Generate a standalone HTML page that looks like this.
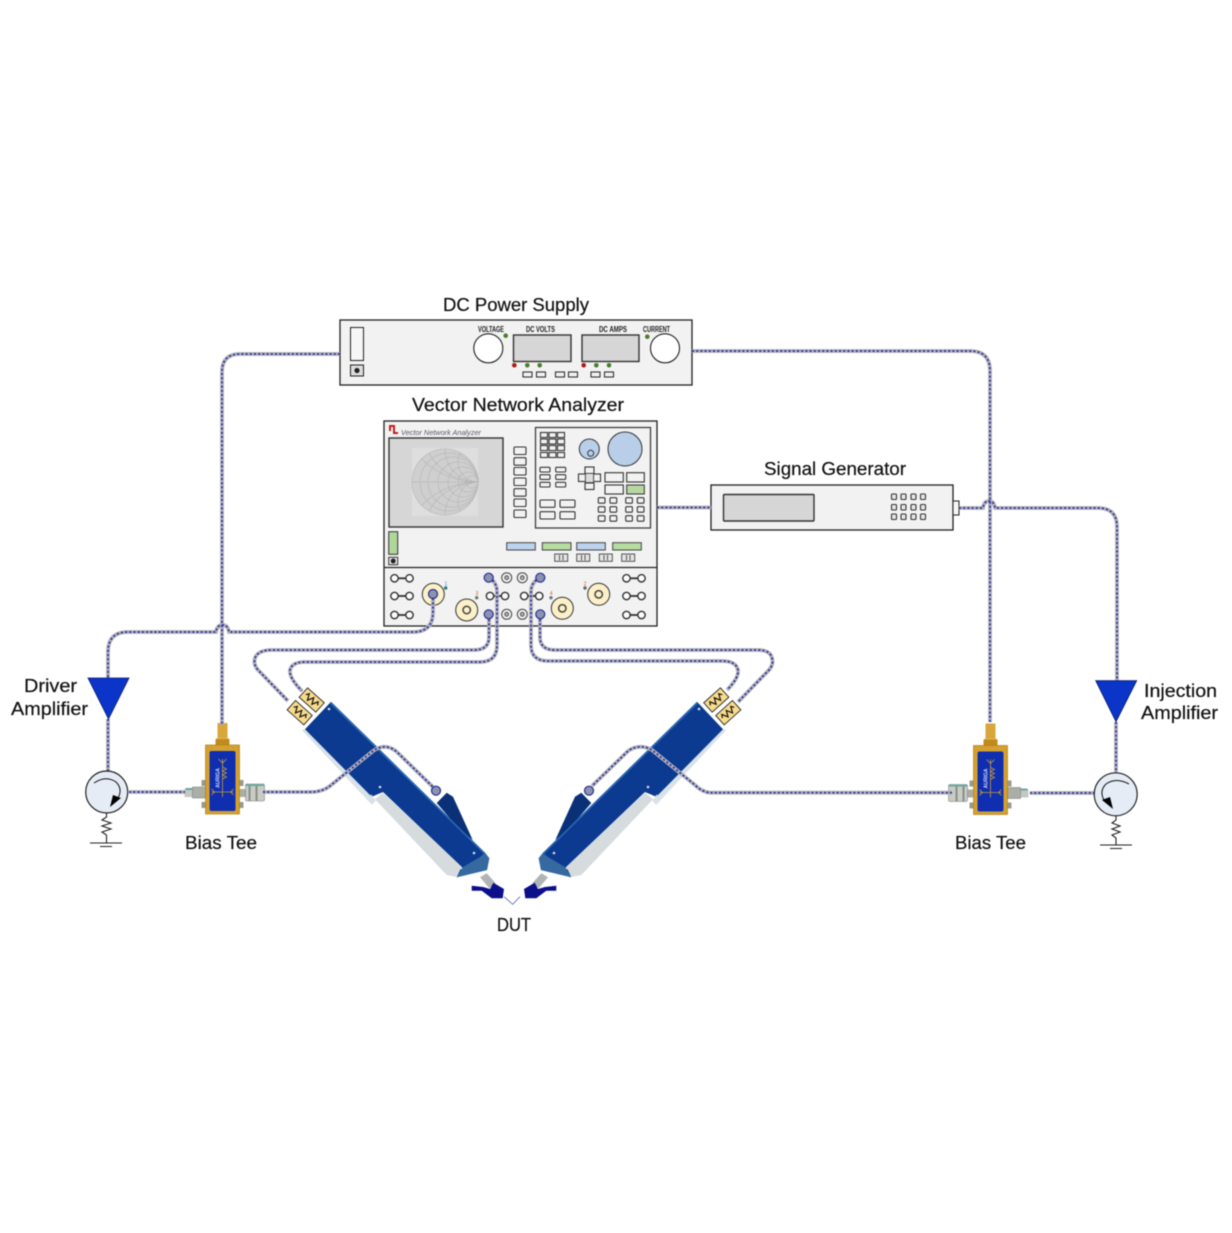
<!DOCTYPE html>
<html><head><meta charset="utf-8"><style>
html,body{margin:0;padding:0;background:#fff}
svg{display:block;filter:blur(.4px)}
text{font-family:"Liberation Sans",sans-serif}
.lb{font-size:18px;fill:#111;stroke:#111;stroke-width:.2}
.sm{font-size:8px;fill:#222;font-weight:700}
.box{fill:#f2f2f2;stroke:#222;stroke-width:1.3}
.disp{fill:#d6d6d6;stroke:#333;stroke-width:1.4}
.btn{fill:#f2f2f2;stroke:#333;stroke-width:1.1}
.cg{fill:none;stroke:#b0b0ba;stroke-width:3.8}
.cd{fill:none;stroke:#2a2f96;stroke-width:1.7;stroke-dasharray:2 2.2}
</style></head><body>
<svg width="1232" height="1233" viewBox="0 0 1232 1233" xmlns="http://www.w3.org/2000/svg">
<defs>
<path id="cables" d="M340,354H240Q222,354 222,372V725
M692,351H970Q990,351 990,371V722
M657,507.500H711
M959,508H983Q984,501 989,501Q994,501 995,508H1098Q1117,508 1117,527V681
M433,594V612Q433,632 413,632H229Q228,625 222.500,625Q217,625 216,632H128Q108,632 108,652V680
M108,719V771
M129,792H185
M263,792H311Q322,792 330,786L373,751Q380,746 387,747Q393,748 398,753L434,788
M1030,793H1094
M1116,722V773
M952,792.700H710Q702,792 695,785L652,750Q645,746 638,747Q631,748 627,752L592,786
M489,615V637Q489,650 474,650H272Q258,650 255,658Q253,664 258,670L288,701
M489,578Q497,582 497,592V645Q497,662 480,662H305Q292,662 290,670Q289,678 302,691
M540,615V637Q540,650 555,650H758Q770,650 772,658Q774,664 769,670L738,702
M540,578Q531,582 531,592V645Q531,661 548,661H722Q736,661 738,670Q739,678 727,690"/>
<g id="probe">
<polygon points="301.700,730 305,729 372,797 376,800 372,805" fill="#d9e2e8"/>
<polygon points="436.700,803 446.700,792.700 453,796.700 472.700,840 460,830" fill="#0a3078"/>
<polygon points="375,799.300 382.700,792.700 463,866.700 456.700,877 446.700,875" fill="#d6dbde"/>
<polygon points="331,701.700 305,729.300 371.700,796.700 383,792 461.700,866.700 456.700,877.300 487,870 489.300,858.300 485,852.700" fill="#0b3a90"/>
<polygon points="331,701.700 485,852.700 484,854 330,703.500" fill="#2a66b0"/>
<polygon points="485,852.700 489.300,858.300 487,870 456.700,877.300 463,867 480,857" fill="#3569a0"/>
<polygon points="480,877.300 486.700,873.300 495.700,883.300 489.300,888.300" fill="#b0b4b4"/>
<polygon points="471.700,885.700 483,887 490,889 493.300,882.700 504,889 502.700,898.300 491.700,898.300 481.700,890.700 471.700,890.700" fill="#0b0f8a"/>
<g fill="#d5dde2"><circle cx="329" cy="709" r="1.300"/><circle cx="306" cy="732" r="1.300"/><circle cx="380" cy="787" r="1.300"/><circle cx="371" cy="796" r="1.300"/><circle cx="474" cy="853" r="1.300"/><circle cx="461" cy="868" r="1.300"/></g>
<g transform="translate(311.700,700) rotate(42)"><rect x="-11.200" y="-6.300" width="22.400" height="12.600" fill="#f8dc8c" stroke="#222" stroke-width=".9"/><polyline points="-8,0 -6,-3 -3,3 0,-3 3,3 6,-3 8,0" fill="none" stroke="#111" stroke-width="1.200"/></g>
<g transform="translate(299.700,712.700) rotate(42)"><rect x="-11.200" y="-6.300" width="22.400" height="12.600" fill="#f8dc8c" stroke="#222" stroke-width=".9"/><polyline points="-8,0 -6,-3 -3,3 0,-3 3,3 6,-3 8,0" fill="none" stroke="#111" stroke-width="1.200"/></g>
</g>
<g id="teeconn">
<rect x="-38" y="-3" width="8" height="8" fill="#c5c8c0"/><rect x="-30" y="-5" width="13" height="11" fill="#aaaea6" stroke="#777" stroke-width=".5"/><rect x="-37" y="-4" width="7" height="2" fill="#6aa8a0"/>
<rect x="17" y="-3" width="6" height="8" fill="#aaaea6"/><rect x="23" y="-8" width="19" height="17" rx="1" fill="#c8ccc4" stroke="#777" stroke-width=".5"/><rect x="26" y="-8" width="2" height="17" fill="#8a8e86"/><rect x="33" y="-8" width="2" height="17" fill="#8a8e86"/><rect x="23" y="-8" width="19" height="2" fill="#6aa8a0"/>
</g>
<g id="tee">
<rect x="-5" y="-69" width="10" height="15" fill="#d8a63a"/><rect x="-6" y="-54" width="12" height="3" fill="#e3b850"/><rect x="-7" y="-53" width="14" height="6" fill="#c08a20"/>
<g fill="#9a9a90"><rect x="-21" y="-12" width="4" height="6"/><rect x="17" y="-12" width="4" height="6"/><rect x="-21" y="10" width="4" height="6"/><rect x="17" y="10" width="4" height="6"/></g>
<rect x="-17" y="-47" width="34" height="69" fill="#d4a030" stroke="#b37f18" stroke-width=".7"/>
<rect x="-13" y="-41" width="26" height="60" rx="2" fill="#0f2fb0"/>
<path d="M0,-33V5M-4,-33L0,-29L4,-33M0,-25l4,2l-4,2l4,2l-4,2l4,2l-4,2M-11,0H11M-11,-3l3,3l-3,3M11,-3l-3,3l3,3" fill="none" stroke="#c79a3a" stroke-width=".8"/>
<text x="0" y="0" transform="translate(-3,-14) rotate(-90)" text-anchor="middle" style="font-size:5px;fill:#cfd8f5;font-weight:700">AURIGA</text>
</g>
<g id="bb"><line x1="-6" x2="6" y1="0" y2="0" stroke="#333" stroke-width="1.800"/><circle cx="-7.500" cy="0" r="3.700" fill="#fbfbfb" stroke="#333" stroke-width="1.400"/><circle cx="7.500" cy="0" r="3.700" fill="#fbfbfb" stroke="#333" stroke-width="1.400"/></g>
<g id="yp"><circle r="11" fill="#fbf0c8" stroke="#333" stroke-width="1"/><circle r="3.700" fill="#fbf0c8" stroke="#444" stroke-width="1.500"/></g>
<g id="gp"><circle r="4.500" fill="#8d92b2" stroke="#23308f" stroke-width="1.200"/></g>
<g id="rp"><circle r="5" fill="#f2f2f2" stroke="#444"/><circle r="2" fill="#aaa" stroke="#444" stroke-width=".8"/></g>
<clipPath id="sm"><circle cx="445" cy="482" r="33"/></clipPath>
</defs>

<rect width="1232" height="1233" fill="#fff"/>

<!-- DC power supply -->
<rect class="box" x="340" y="320" width="352" height="65"/>
<rect x="350.500" y="327.500" width="13" height="33" fill="#f6f6f6" stroke="#222"/>
<rect x="350.500" y="365" width="13" height="11" fill="#ddd" stroke="#222"/><circle cx="357" cy="370.500" r="2.600" fill="#222"/>
<circle cx="488.300" cy="348.300" r="14.500" fill="#fff" stroke="#222" stroke-width="1.100"/>
<circle cx="665" cy="348.300" r="14.500" fill="#fff" stroke="#222" stroke-width="1.100"/>
<rect class="disp" x="513.500" y="335" width="57.500" height="26.500"/>
<rect class="disp" x="582" y="335" width="57" height="26.500"/>
<g fill="#4d7d2c"><circle cx="505.700" cy="335.700" r="2.300"/><circle cx="647.300" cy="336.700" r="2.300"/><circle cx="527.300" cy="365.300" r="2.300"/><circle cx="539.700" cy="365.300" r="2.300"/><circle cx="596.300" cy="365.300" r="2.300"/><circle cx="609" cy="365.300" r="2.300"/></g>
<g fill="#b01818"><circle cx="514.300" cy="365.300" r="2.300"/><circle cx="583.700" cy="365.300" r="2.300"/></g>
<rect class="btn" x="523" y="372" width="9" height="5"/><rect class="btn" x="536.500" y="372" width="9" height="5"/><rect class="btn" x="555.500" y="372" width="9" height="5"/><rect class="btn" x="568.500" y="372" width="9" height="5"/><rect class="btn" x="591" y="372" width="9" height="5"/><rect class="btn" x="604.500" y="372" width="9" height="5"/>
<text class="sm" x="478" y="332" textLength="26" lengthAdjust="spacingAndGlyphs">VOLTAGE</text>
<text class="sm" x="526" y="332" textLength="29" lengthAdjust="spacingAndGlyphs">DC VOLTS</text>
<text class="sm" x="599" y="332" textLength="28" lengthAdjust="spacingAndGlyphs">DC AMPS</text>
<text class="sm" x="643" y="332" textLength="27" lengthAdjust="spacingAndGlyphs">CURRENT</text>

<!-- VNA -->
<rect class="box" x="384" y="421" width="273" height="205"/>
<line x1="384" y1="567.500" x2="657" y2="567.500" stroke="#222" stroke-width="1.200"/>
<path d="M390,431V426H394V433H398" fill="none" stroke="#c02020" stroke-width="2"/>
<text x="401" y="435" textLength="80" lengthAdjust="spacingAndGlyphs" style="font-size:7px;font-style:italic;fill:#556">Vector Network Analyzer</text>
<rect class="disp" x="389" y="438" width="114" height="89"/>
<rect x="412" y="448" width="66" height="68" fill="#dedede"/>
<circle cx="445" cy="482" r="33" fill="#cfcfcf"/>
<g fill="none" stroke="#b2b2b2" stroke-width=".9" stroke-dasharray="1.500 1">
<circle cx="445" cy="482" r="33"/><circle cx="449" cy="482" r="29"/><circle cx="453" cy="482" r="25"/><circle cx="458" cy="482" r="20"/><circle cx="463" cy="482" r="15"/><circle cx="468" cy="482" r="10"/><circle cx="472" cy="482" r="6"/>
<circle cx="478" cy="449" r="33" clip-path="url(#sm)"/><circle cx="478" cy="515" r="33" clip-path="url(#sm)"/>
<circle cx="478" cy="462" r="20" clip-path="url(#sm)"/><circle cx="478" cy="502" r="20" clip-path="url(#sm)"/>
<circle cx="478" cy="426" r="56" clip-path="url(#sm)"/><circle cx="478" cy="538" r="56" clip-path="url(#sm)"/>
<circle cx="478" cy="402" r="80" clip-path="url(#sm)"/><circle cx="478" cy="562" r="80" clip-path="url(#sm)"/>
<line x1="412" y1="482" x2="478" y2="482"/>
</g>
<rect class="btn" x="514" y="447" width="12" height="7.500" rx="1"/><rect class="btn" x="514" y="457.700" width="12" height="7.500" rx="1"/><rect class="btn" x="514" y="467.500" width="12" height="7.500" rx="1"/><rect class="btn" x="514" y="478" width="12" height="7.500" rx="1"/><rect class="btn" x="514" y="488.700" width="12" height="7.500" rx="1"/><rect class="btn" x="514" y="499" width="12" height="7.500" rx="1"/><rect class="btn" x="514" y="510" width="12" height="7.500" rx="1"/>
<rect x="535.500" y="427.500" width="115" height="100.500" fill="#f2f2f2" stroke="#333" stroke-width="1.200"/>
<rect class="btn" x="540.500" y="432.500" width="7" height="5"/><rect class="btn" x="549" y="432.500" width="7" height="5"/><rect class="btn" x="557.500" y="432.500" width="7" height="5"/>
<rect class="btn" x="540.500" y="439" width="7" height="5"/><rect class="btn" x="549" y="439" width="7" height="5"/><rect class="btn" x="557.500" y="439" width="7" height="5"/>
<rect class="btn" x="540.500" y="445.500" width="7" height="5"/><rect class="btn" x="549" y="445.500" width="7" height="5"/><rect class="btn" x="557.500" y="445.500" width="7" height="5"/>
<rect class="btn" x="540.500" y="452.500" width="7" height="5"/><rect class="btn" x="549" y="452.500" width="7" height="5"/><rect class="btn" x="557.500" y="452.500" width="7" height="5"/>
<circle cx="589.300" cy="449" r="10" fill="#b9cee8" stroke="#333"/><circle cx="590.700" cy="453.300" r="3" fill="#b9cee8" stroke="#333"/>
<circle cx="625" cy="449" r="17" fill="#b9cee8" stroke="#333"/>
<rect class="btn" x="540" y="467.300" width="10" height="4.700" rx="1"/><rect class="btn" x="555.700" y="467.300" width="10" height="4.700" rx="1"/>
<rect class="btn" x="540" y="474.700" width="10" height="4.700" rx="1"/><rect class="btn" x="555.700" y="474.700" width="10" height="4.700" rx="1"/>
<rect class="btn" x="540" y="482.300" width="10" height="4.700" rx="1"/><rect class="btn" x="555.700" y="482.300" width="10" height="4.700" rx="1"/>
<rect class="btn" x="585" y="467" width="9" height="6.500"/><rect class="btn" x="585" y="483" width="9" height="6.500"/><rect class="btn" x="578.500" y="474" width="7" height="7.500"/><rect class="btn" x="593.500" y="474" width="7" height="7.500"/><rect x="585.500" y="473.500" width="8" height="9" fill="#ddd" stroke="#333" stroke-width=".6"/>
<rect class="btn" x="605" y="472.700" width="18.300" height="9.300"/><rect class="btn" x="626.700" y="472.700" width="17.600" height="9.300"/>
<rect class="btn" x="605" y="485" width="18.300" height="9"/><rect x="626.700" y="485" width="17.600" height="9" fill="#b6d8a0" stroke="#333"/>
<rect class="btn" x="540" y="500" width="15" height="7.300" rx="1"/><rect class="btn" x="560" y="500" width="15" height="7.300" rx="1"/>
<rect class="btn" x="540" y="511.700" width="15" height="7.300" rx="1"/><rect class="btn" x="560" y="511.700" width="15" height="7.300" rx="1"/>
<rect class="btn" x="598.300" y="497.700" width="6.700" height="5.500" rx="1"/><rect class="btn" x="610" y="497.700" width="6.700" height="5.500" rx="1"/><rect class="btn" x="625.700" y="497.700" width="6.700" height="5.500" rx="1"/><rect class="btn" x="637.300" y="497.700" width="6.700" height="5.500" rx="1"/>
<rect class="btn" x="598.300" y="506.700" width="6.700" height="5.500" rx="1"/><rect class="btn" x="610" y="506.700" width="6.700" height="5.500" rx="1"/><rect class="btn" x="625.700" y="506.700" width="6.700" height="5.500" rx="1"/><rect class="btn" x="637.300" y="506.700" width="6.700" height="5.500" rx="1"/>
<rect class="btn" x="598.300" y="515.700" width="6.700" height="5.500" rx="1"/><rect class="btn" x="610" y="515.700" width="6.700" height="5.500" rx="1"/><rect class="btn" x="625.700" y="515.700" width="6.700" height="5.500" rx="1"/><rect class="btn" x="637.300" y="515.700" width="6.700" height="5.500" rx="1"/>
<rect x="388.700" y="531.700" width="9" height="22.600" fill="#b0d79a" stroke="#333"/>
<rect x="388.700" y="557.300" width="9" height="7.400" fill="#e8e8e8" stroke="#333"/><circle cx="393.200" cy="561" r="2.500" fill="#222"/>
<rect x="506.700" y="542.700" width="28.600" height="7.300" fill="#bcd3ee" stroke="#444"/><rect x="542.300" y="542.700" width="28.700" height="7.300" fill="#b6dca0" stroke="#444"/><rect x="576.700" y="542.700" width="28.600" height="7.300" fill="#bcd3ee" stroke="#444"/><rect x="612.700" y="542.700" width="28.600" height="7.300" fill="#b6dca0" stroke="#444"/>
<g fill="#e4e4e4" stroke="#444" stroke-width=".9">
<rect x="554.700" y="554" width="13" height="7.300"/><path d="M559.500,555v5.300M563,555v5.300"/>
<rect x="576.700" y="554" width="13" height="7.300"/><path d="M581.500,555v5.300M585,555v5.300"/>
<rect x="599.300" y="554" width="13" height="7.300"/><path d="M604,555v5.300M607.500,555v5.300"/>
<rect x="621.700" y="554" width="13" height="7.300"/><path d="M626.500,555v5.300M630,555v5.300"/>
</g>
<use href="#bb" x="402" y="578.300"/><use href="#bb" x="402" y="596"/><use href="#bb" x="402" y="615"/>
<use href="#bb" x="634" y="578.300"/><use href="#bb" x="634" y="596"/><use href="#bb" x="634" y="615"/>
<use href="#bb" x="497.500" y="596"/><use href="#bb" x="531.700" y="596"/>
<use href="#yp" x="433.300" y="594.300"/><use href="#yp" x="466.700" y="610"/><use href="#yp" x="562.300" y="608.300"/><use href="#yp" x="598.700" y="594.300"/>
<use href="#rp" x="506.700" y="577.700"/><use href="#rp" x="522.300" y="577.700"/><use href="#rp" x="506.700" y="614.300"/><use href="#rp" x="522.300" y="614.300"/>
<circle cx="445.700" cy="588" r="1.700" fill="#2a7a7a"/><circle cx="476.700" cy="597.700" r="1.700" fill="#777"/><circle cx="551" cy="597.700" r="1.700" fill="#777"/><circle cx="585" cy="588" r="1.700" fill="#666"/>
<text x="444.500" y="585.500" style="font-size:5px;fill:#3a80d0">1</text><text x="475.500" y="595" style="font-size:5px;fill:#c06020">3</text><text x="549.800" y="595" style="font-size:5px;fill:#c06020">4</text><text x="583.800" y="585.500" style="font-size:5px;fill:#c06020">2</text>

<!-- Signal generator -->
<rect class="box" x="711" y="485" width="242" height="45"/>
<rect class="disp" x="723.500" y="494.500" width="90.500" height="26.500" rx="1"/>
<rect x="953" y="501" width="6" height="14" fill="#f6f6f6" stroke="#222"/>
<g fill="#e6e6e6" stroke="#333" stroke-width="1.100">
<rect x="891.500" y="494" width="5" height="5.500" rx="1"/><rect x="901" y="494" width="5" height="5.500" rx="1"/><rect x="911" y="494" width="5" height="5.500" rx="1"/><rect x="920.500" y="494" width="5" height="5.500" rx="1"/>
<rect x="891.500" y="504.500" width="5" height="5.500" rx="1"/><rect x="901" y="504.500" width="5" height="5.500" rx="1"/><rect x="911" y="504.500" width="5" height="5.500" rx="1"/><rect x="920.500" y="504.500" width="5" height="5.500" rx="1"/>
<rect x="891.500" y="514" width="5" height="5.500" rx="1"/><rect x="901" y="514" width="5" height="5.500" rx="1"/><rect x="911" y="514" width="5" height="5.500" rx="1"/><rect x="920.500" y="514" width="5" height="5.500" rx="1"/>
</g>

<!-- Probes -->
<use href="#probe"/>
<use href="#probe" transform="translate(1028,0) scale(-1,1)"/>
<path d="M504,896.700L512.700,904.300L520,896.700" fill="none" stroke="#6a6ab8" stroke-width=".9"/>

<!-- Bias tees -->
<use href="#teeconn" x="222.500" y="792"/>
<use href="#tee" x="222.500" y="792"/>
<use href="#teeconn" transform="translate(990.500,792.500) scale(-1,1)"/>
<use href="#tee" x="990.500" y="792.500"/>

<!-- Cables -->
<use href="#cables" class="cg"/>
<use href="#cables" class="cd"/>
<use href="#gp" x="433" y="594"/><use href="#gp" x="488.700" y="577.700"/><use href="#gp" x="488.700" y="614.300"/><use href="#gp" x="540.300" y="577.700"/><use href="#gp" x="540.300" y="614.300"/>
<use href="#gp" x="436" y="790.700"/><use href="#gp" x="589" y="790.700"/>

<!-- Amps -->
<polygon points="88,678 129,678 108.500,719" fill="#0a35c8" stroke="#0a1a70" stroke-width=".8"/>
<polygon points="1095.700,680.700 1136.700,680.700 1116,721.700" fill="#0a35c8" stroke="#0a1a70" stroke-width=".8"/>

<!-- Circulators -->
<circle cx="106.700" cy="792" r="21" fill="#e6ecf6" stroke="#222" stroke-width="1.200"/>
<path d="M94,783Q106,775 116,782Q123,789 118,798" fill="none" stroke="#111" stroke-width="1"/>
<polygon points="110,807 121,798 113,795" fill="#000"/>
<path d="M106.500,813V817L102,820L111,823L102,826L111,829L102,832L106.500,835V843M90,843H122M100,846.500H112" fill="none" stroke="#222" stroke-width="1.100"/>
<circle cx="1115.700" cy="794.300" r="21.500" fill="#e6ecf6" stroke="#222" stroke-width="1.200"/>
<path d="M1129,784Q1116,777 1106,784Q1099,791 1104,800" fill="none" stroke="#111" stroke-width="1"/>
<polygon points="1113,809 1102,800 1110,797" fill="#000"/>
<path d="M1116,816V820L1112,823L1120,826L1112,829L1120,832L1112,835L1116,838V845M1100,845H1132M1110,848.500H1122" fill="none" stroke="#222" stroke-width="1.100"/>

<!-- Labels -->
<text class="lb" x="443" y="311" textLength="146" lengthAdjust="spacingAndGlyphs">DC Power Supply</text>
<text class="lb" x="412" y="411" textLength="212" lengthAdjust="spacingAndGlyphs">Vector Network Analyzer</text>
<text class="lb" x="764" y="475" textLength="142" lengthAdjust="spacingAndGlyphs">Signal Generator</text>
<text class="lb" x="24" y="692" textLength="53" lengthAdjust="spacingAndGlyphs">Driver</text>
<text class="lb" x="11" y="715" textLength="77" lengthAdjust="spacingAndGlyphs">Amplifier</text>
<text class="lb" x="185" y="849" textLength="72" lengthAdjust="spacingAndGlyphs">Bias Tee</text>
<text class="lb" x="955" y="849" textLength="71" lengthAdjust="spacingAndGlyphs">Bias Tee</text>
<text class="lb" x="497" y="931" textLength="34" lengthAdjust="spacingAndGlyphs">DUT</text>
<text class="lb" x="1144" y="697" textLength="73" lengthAdjust="spacingAndGlyphs">Injection</text>
<text class="lb" x="1141" y="719" textLength="77" lengthAdjust="spacingAndGlyphs">Amplifier</text>
</svg>
</body></html>
